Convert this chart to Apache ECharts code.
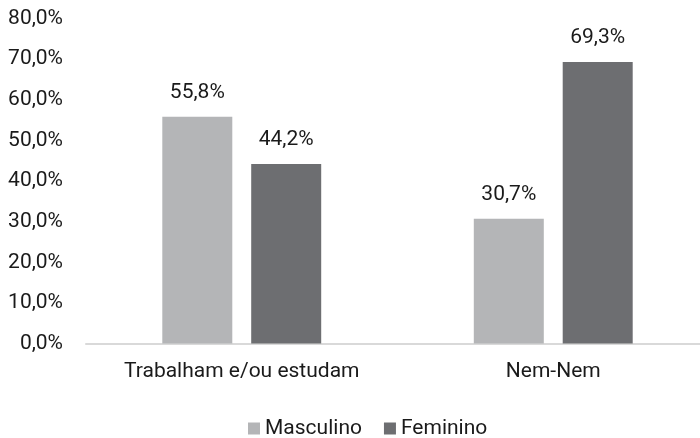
<!DOCTYPE html>
<html lang="pt-BR">
<head>
    <meta charset="UTF-8">
    <title>Trabalham e/ou estudam vs Nem-Nem</title>
    <script src="https://cdn.jsdelivr.net/npm/echarts@6/dist/echarts.min.js"></script>
    <style>
        html, body { margin: 0; padding: 0; background: #fff; overflow: hidden; }
        /* o eixo passa da borda direita no original, por isso o div é mais largo */
        #chart { width: 709px; height: 438px; }
    </style>
</head>
<body>
    <div id="chart"></div>
    <script>
        // dados
        const categorias = ['Trabalham e/ou estudam', 'Nem-Nem'];
        const masculino = [55.8, 30.7];
        const feminino = [44.2, 69.3];

        const fonte = 'Roboto, "Liberation Sans", sans-serif';
        const corTexto = '#1a1a1a';

        function pct(v) {
            return v.toFixed(1).replace('.', ',') + '%';
        }

        const chart = echarts.init(document.getElementById('chart'));

        const rotulo = {
            show: true,
            position: 'top',
            distance: 14,
            color: corTexto,
            fontFamily: fonte,
            fontSize: 21,
            formatter: p => pct(p.value)
        };

        chart.setOption({
            animation: false,
            grid: { left: 86, right: 0, top: 18.5, bottom: 94.5 },
            legend: {
                left: 243,
                top: 413,
                itemWidth: 12,
                itemHeight: 12,
                itemGap: 22,
                icon: 'rect',
                textStyle: { color: corTexto, fontFamily: fonte, fontSize: 21 },
                data: ['Masculino', 'Feminino']
            },
            xAxis: {
                type: 'category',
                data: categorias,
                axisLine: { lineStyle: { color: '#d9d9d9', width: 2 } },
                axisTick: { show: false },
                axisLabel: { interval: 0, color: corTexto, fontFamily: fonte, fontSize: 21, margin: 18 }
            },
            yAxis: {
                type: 'value',
                min: 0,
                max: 80,
                interval: 10,
                splitLine: { show: false },
                axisLine: { show: false },
                axisTick: { show: false },
                axisLabel: {
                    color: corTexto,
                    fontFamily: fonte,
                    fontSize: 21,
                    margin: 23,
                    formatter: v => pct(v)
                }
            },
            series: [
                {
                    name: 'Masculino',
                    type: 'bar',
                    data: masculino,
                    barWidth: 70,
                    barGap: '27%',
                    itemStyle: { color: '#b4b5b7' },
                    label: rotulo
                },
                {
                    name: 'Feminino',
                    type: 'bar',
                    data: feminino,
                    barWidth: 70,
                    itemStyle: { color: '#6d6e71' },
                    label: rotulo
                }
            ]
        });
    </script>
</body>
</html>
